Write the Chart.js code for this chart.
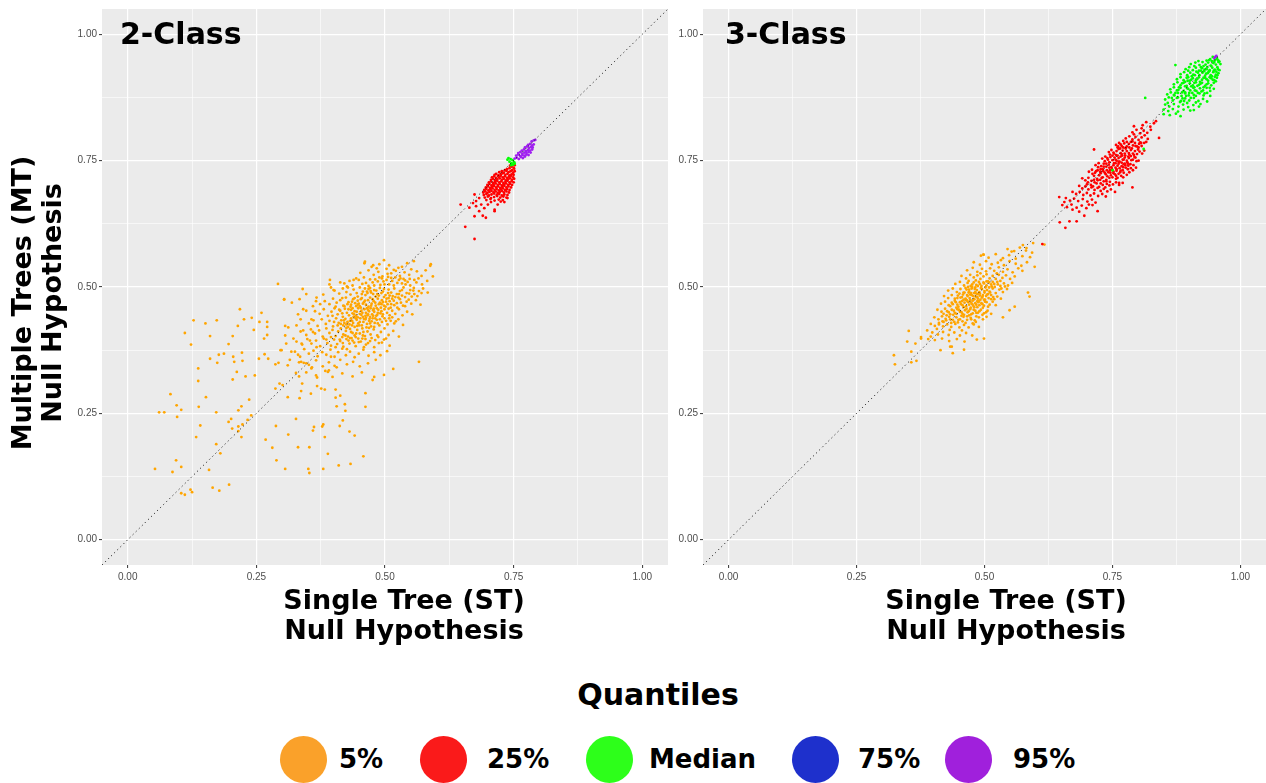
<!DOCTYPE html>
<html>
<head>
<meta charset="utf-8">
<script src="https://cdn.jsdelivr.net/npm/chart.js@4.4.1/dist/chart.umd.min.js"></script>
<style>
html,body{margin:0;padding:0;background:#fff;width:1266px;height:783px;overflow:hidden;}
#wrap{position:relative;width:1266px;height:783px;font-family:"DejaVu Sans",sans-serif;color:#000;}
canvas{position:absolute;top:0;}
#c1{left:0;}
#c2{left:668px;}
.t{position:absolute;font-weight:bold;white-space:nowrap;}
.panel{font-size:30px;line-height:30px;top:19px;}
.xt{font-size:27px;line-height:30px;top:585px;width:400px;text-align:center;}
.yt{font-size:27px;line-height:30px;width:400px;height:60px;text-align:center;left:-163px;top:273px;transform:rotate(-90deg);}
.lt{font-size:30px;line-height:36px;top:677px;width:300px;left:508px;text-align:center;}
.dot{position:absolute;width:47px;height:47px;border-radius:50%;top:735.5px;}
.lab{position:absolute;font-weight:bold;font-size:26px;line-height:30px;top:744px;white-space:nowrap;}
</style>
</head>
<body>
<div id="wrap">
<canvas id="c1" width="668" height="600"></canvas>
<canvas id="c2" width="598" height="600"></canvas>
<div class="t panel" style="left:120px">2-Class</div>
<div class="t panel" style="left:725px">3-Class</div>
<div class="t xt" style="left:204px">Single Tree (ST)<br>Null Hypothesis</div>
<div class="t xt" style="left:806px">Single Tree (ST)<br>Null Hypothesis</div>
<div class="t yt">Multiple Trees (MT)<br>Null Hypothesis</div>
<div class="t lt">Quantiles</div>
<div id="legend"></div>
</div>
<script>
// ---------- DATA ----------
const quantileNames = ['5%', '25%', 'Median', '75%', '95%'];
const majorTicks = [0, 0.25, 0.5, 0.75, 1];
const tickLabels = ['0.00', '0.25', '0.50', '0.75', '1.00'];
const minorTicks = [0.125, 0.375, 0.625, 0.875];

// 2-Class panel: [ST, MT]
const twoClassQ05 = [
[.218,.456],[.128,.434],[.151,.428],[.173,.434],[.111,.409],[.123,.386],[.160,.403],[.196,.387],[.204,.403],[.214,.423],
[.226,.436],[.241,.439],[.245,.415],[.260,.449],[.256,.431],[.271,.431],[.271,.421],[.271,.405],[.265,.398],[.160,.358],
[.177,.366],[.187,.368],[.222,.370],[.205,.362],[.223,.354],[.207,.352],[.174,.350],[.137,.339],[.212,.332],[.229,.323],
[.247,.325],[.204,.317],[.137,.314],[.255,.358],[.266,.367],[.273,.358],[.287,.347],[.293,.350],[.311,.345],[.297,.375],
[.306,.423],[.308,.388],[.325,.372],[.333,.351],[.327,.330],[.333,.323],[.342,.350],[.301,.306],[.287,.299],[.295,.309],
[.311,.282],[.337,.294],[.334,.280],[.339,.309],[.356,.289],[.368,.321],[.368,.304],[.376,.299],[.383,.297],[.389,.332],
[.404,.297],[.406,.264],[.404,.281],[.413,.285],[.422,.268],[.423,.255],[.462,.290],[.462,.263],[.479,.322],[.476,.316],
[.083,.288],[.095,.266],[.104,.257],[.061,.252],[.071,.252],[.096,.243],[.138,.263],[.152,.282],[.172,.252],[.215,.256],
[.221,.264],[.236,.277],[.141,.226],[.133,.203],[.172,.189],[.180,.171],[.196,.233],[.201,.239],[.203,.220],[.215,.224],
[.215,.215],[.221,.203],[.223,.228],[.233,.237],[.240,.246],[.288,.225],[.268,.198],[.281,.182],[.312,.208],[.327,.239],
[.331,.183],[.353,.183],[.360,.216],[.362,.223],[.378,.224],[.380,.228],[.383,.203],[.389,.170],[.410,.147],[.412,.225],
[.418,.236],[.431,.214],[.441,.206],[.458,.165],[.433,.150],[.380,.140],[.351,.140],[.353,.132],[.306,.140],[.289,.157],
[.094,.157],[.104,.144],[.053,.140],[.087,.134],[.158,.138],[.197,.109],[.165,.103],[.178,.097],[.122,.099],[.125,.094],
[.104,.092],[.111,.089],[.589,.545],[.566,.352],[.516,.338],[.498,.326],
[.292,.506],[.340,.496],[.304,.476],[.393,.514],[.413,.509],[.400,.494],[.426,.501],[.439,.514],[.461,.550],[.477,.543],
[.334,.476],[.347,.486],[.366,.472],
[.304,.475],[.319,.469],[.331,.446],[.347,.453],[.336,.436],[.357,.436],[.312,.420],[.328,.424],[.341,.414],[.360,.411],
[.306,.404],[.322,.398],[.338,.388],[.354,.394],[.367,.381],[.299,.375],[.315,.356],[.335,.362],[.347,.349],[.357,.339],
[.341,.456],[.360,.462],[.367,.479],[.380,.485],[.392,.505],
[.460,.547],[.498,.553],[.543,.547],[.556,.551],[.474,.540],[.508,.543],[.533,.540],[.588,.542],[.517,.534],[.489,.545],
[.452,.528],[.468,.533],[.478,.524],[.495,.521],[.503,.536],[.512,.527],[.521,.532],[.529,.522],[.538,.529],[.547,.524],
[.562,.531],[.571,.522],[.487,.530],[.505,.526],[.526,.538],[.484,.537],[.551,.535],[.579,.533],
[.431,.512],[.444,.517],[.456,.506],[.463,.508],[.471,.515],[.479,.503],[.486,.511],[.494,.517],[.499,.505],[.508,.505],
[.514,.512],[.520,.519],[.527,.514],[.533,.507],[.540,.505],[.548,.516],[.556,.498],[.565,.517],[.572,.505],[.582,.512],
[.437,.503],[.449,.514],[.459,.519],[.476,.509],[.491,.504],[.503,.514],[.517,.503],[.536,.516],[.544,.510],[.561,.509],
[.593,.521],[.421,.507],[.468,.502],
[.402,.493],[.411,.487],[.418,.497],[.425,.490],[.433,.485],[.439,.495],[.445,.488],[.451,.499],[.457,.491],[.462,.484],
[.468,.496],[.473,.489],[.479,.494],[.485,.486],[.490,.498],[.496,.491],[.501,.484],[.507,.495],[.512,.489],[.518,.497],
[.523,.486],[.529,.492],[.536,.499],[.542,.488],[.549,.494],[.557,.486],[.566,.492],[.574,.497],[.583,.489],[.395,.499],
[.428,.499],[.447,.481],[.465,.491],[.482,.481],[.498,.496],[.515,.482],[.533,.483],[.552,.481],[.471,.498],[.506,.488],
[.383,.472],[.392,.466],[.399,.477],[.406,.469],[.413,.474],[.419,.463],[.424,.479],[.429,.470],[.434,.465],[.438,.476],
[.442,.468],[.447,.473],[.451,.462],[.455,.478],[.459,.470],[.463,.465],[.467,.474],[.471,.479],[.474,.467],[.478,.472],
[.482,.463],[.486,.477],[.490,.469],[.494,.474],[.498,.463],[.502,.471],[.507,.478],[.512,.466],[.517,.473],[.523,.468],
[.529,.476],[.535,.463],[.542,.471],[.551,.467],[.560,.474],[.569,.465],[.441,.478],[.457,.467],[.476,.476],[.493,.466],
[.509,.472],[.526,.479],[.447,.465],[.481,.469],[.468,.461],[.433,.461],[.417,.478],[.374,.466],
[.364,.452],[.373,.447],[.381,.456],[.389,.443],[.396,.451],[.402,.458],[.408,.446],[.413,.453],[.418,.441],[.422,.457],
[.426,.449],[.430,.444],[.434,.455],[.437,.448],[.441,.452],[.444,.443],[.448,.458],[.451,.447],[.454,.453],[.457,.441],
[.460,.456],[.463,.449],[.466,.444],[.469,.452],[.472,.458],[.475,.446],[.479,.451],[.483,.443],[.487,.455],[.491,.448],
[.495,.442],[.499,.456],[.504,.449],[.509,.444],[.514,.453],[.520,.447],[.527,.456],[.534,.444],[.543,.451],[.553,.446],
[.439,.441],[.456,.449],[.471,.441],[.486,.449],[.429,.456],[.445,.451],[.462,.443],[.478,.457],[.493,.452],[.417,.448],
[.507,.457],[.398,.443],[.437,.458],[.453,.459],[.467,.455],
[.352,.428],[.361,.434],[.369,.423],[.377,.436],[.385,.427],[.392,.433],[.399,.422],[.405,.438],[.410,.429],[.415,.434],
[.419,.424],[.423,.437],[.427,.431],[.431,.426],[.434,.438],[.438,.429],[.441,.421],[.445,.435],[.448,.428],[.452,.438],
[.455,.424],[.458,.431],[.462,.436],[.465,.427],[.469,.433],[.473,.422],[.476,.438],[.480,.429],[.484,.435],[.489,.424],
[.494,.431],[.499,.438],[.505,.426],[.511,.433],[.518,.428],[.526,.436],[.535,.425],[.428,.421],[.446,.423],[.463,.439],
[.479,.421],[.436,.433],[.451,.431],[.471,.428],[.421,.429],[.401,.431],[.486,.428],[.443,.438],
[.336,.412],[.347,.405],[.356,.416],[.364,.408],[.372,.414],[.379,.402],[.386,.418],[.392,.409],[.398,.415],[.404,.403],
[.409,.412],[.414,.418],[.419,.406],[.424,.413],[.428,.402],[.432,.417],[.437,.409],[.441,.404],[.446,.415],[.451,.408],
[.456,.418],[.461,.403],[.466,.412],[.472,.406],[.478,.416],[.485,.404],[.492,.411],[.499,.418],[.507,.405],[.516,.413],
[.527,.402],[.425,.419],[.443,.401],[.458,.411],[.417,.401],[.395,.401],[.434,.411],[.469,.419],
[.328,.392],[.339,.386],[.349,.397],[.357,.388],[.366,.394],[.374,.383],[.381,.398],[.388,.389],[.395,.384],[.401,.396],
[.407,.387],[.413,.393],[.419,.382],[.425,.397],[.431,.388],[.437,.394],[.443,.383],[.449,.391],[.456,.398],[.463,.386],
[.471,.393],[.479,.381],[.488,.389],[.498,.396],[.509,.384],[.404,.381],[.432,.399],[.459,.381],[.386,.396],
[.318,.372],[.331,.366],[.343,.377],[.352,.368],[.361,.374],[.369,.363],[.378,.371],[.386,.366],[.394,.376],[.402,.362],
[.409,.371],[.417,.378],[.424,.365],[.432,.372],[.441,.361],[.449,.368],[.458,.376],[.468,.364],[.479,.371],[.491,.365],
[.504,.373],[.395,.362],[.426,.377],
[.337,.352],[.352,.346],[.366,.355],[.379,.343],[.391,.351],[.402,.344],[.413,.356],[.426,.347],[.438,.352],[.451,.343],
[.467,.349],[.482,.356],[.358,.341],[.406,.341],
[.347,.331],[.366,.325],[.384,.334],[.398,.322],[.417,.329],[.437,.323],[.455,.331],[.391,.335],
[.404,.461],[.411,.455],[.421,.462],[.427,.466],[.436,.471],[.444,.462],[.449,.467],[.453,.476],[.461,.473],[.465,.458],
[.473,.463],[.477,.454],[.484,.458],[.488,.466],[.492,.459],[.496,.470],[.501,.461],[.505,.466],[.511,.459],[.518,.464],
[.524,.459],[.531,.469],[.539,.462],[.546,.475],
[.408,.424],[.414,.427],[.420,.434],[.425,.426],[.432,.433],[.436,.424],[.440,.446],[.447,.440],[.450,.424],[.454,.445],
[.459,.437],[.464,.420],[.467,.446],[.470,.437],[.474,.432],[.477,.443],[.481,.438],[.485,.445],[.490,.436],[.496,.446],
[.502,.433],[.508,.438],[.514,.440],[.521,.432],
[.412,.396],[.418,.389],[.423,.404],[.429,.394],[.435,.399],[.440,.390],[.444,.408],[.448,.398],[.453,.392],[.457,.404],
[.462,.397],[.467,.389],[.474,.399],[.481,.395],[.487,.401],[.494,.390],[.502,.398],
[.455,.486],[.461,.497],[.466,.488],[.472,.492],[.477,.486],[.483,.493],[.488,.483],[.493,.488],[.498,.480],[.503,.477],
[.509,.483],[.514,.477],[.520,.480],[.527,.486],[.533,.494],[.539,.480],[.547,.487],[.555,.493],[.563,.482],[.571,.488],
[.481,.515],[.489,.519],[.497,.511],[.506,.520],[.512,.518],[.524,.508],[.530,.517],[.539,.513],[.549,.503],[.557,.514]
];
const twoClassQ25 = [
[.746,.738],[.750,.736],[.743,.740],[.752,.741],
[.737,.733],[.742,.735],[.747,.731],[.751,.734],[.733,.731],
[.722,.727],[.727,.729],[.731,.726],[.736,.730],[.740,.727],[.744,.729],[.749,.726],[.752,.729],
[.713,.722],[.716,.724],[.720,.721],[.725,.723],[.729,.725],[.734,.722],[.738,.724],[.742,.721],[.746,.723],[.750,.722],
[.708,.717],[.712,.719],[.716,.716],[.721,.718],[.725,.720],[.729,.717],[.733,.719],[.737,.716],[.741,.718],[.745,.720],[.749,.717],
[.706,.712],[.710,.714],[.714,.711],[.718,.713],[.723,.715],[.727,.712],[.731,.714],[.735,.711],[.739,.713],[.743,.715],[.747,.712],[.751,.714],
[.702,.707],[.706,.709],[.710,.706],[.714,.708],[.718,.710],[.722,.707],[.726,.709],[.730,.706],[.734,.708],[.738,.710],[.742,.707],[.746,.709],[.750,.707],
[.699,.702],[.703,.704],[.707,.701],[.711,.703],[.715,.705],[.719,.702],[.723,.704],[.727,.701],[.731,.703],[.735,.705],[.739,.702],[.743,.704],[.747,.702],
[.696,.697],[.700,.699],[.704,.696],[.708,.698],[.712,.700],[.716,.697],[.720,.699],[.724,.696],[.728,.698],[.732,.700],[.736,.697],[.740,.699],[.745,.697],
[.693,.692],[.697,.694],[.701,.691],[.705,.693],[.709,.695],[.713,.692],[.717,.694],[.721,.691],[.725,.693],[.729,.695],[.733,.692],[.737,.694],[.742,.692],
[.691,.687],[.695,.689],[.699,.686],[.703,.688],[.707,.690],[.711,.687],[.715,.689],[.719,.686],[.723,.688],[.727,.690],[.731,.687],[.736,.689],[.741,.687],
[.692,.682],[.697,.684],[.702,.681],[.707,.683],[.712,.685],[.717,.682],[.722,.684],[.727,.681],[.732,.683],[.738,.682],
[.694,.677],[.700,.679],[.706,.676],[.712,.678],[.718,.680],[.724,.677],[.730,.679],[.736,.677],
[.697,.672],[.705,.674],[.713,.671],[.721,.673],[.729,.672],
[.674,.683],[.683,.676],[.671,.666],[.677,.660],[.687,.663],[.693,.656],[.700,.663],[.713,.653],[.683,.650],[.674,.640],
[.690,.641],[.713,.650],[.725,.669],[.732,.668],[.738,.676],[.706,.668],[.647,.663],[.656,.619],[.674,.595],[.664,.657],
[.719,.663],[.696,.637],[.677,.670]
];
const twoClassMedian = [
[.738,.752],[.742,.748],[.746,.745],[.749,.742],[.751,.747],[.744,.753],[.748,.751],[.740,.755],[.752,.744],[.745,.741]
];
const twoClassQ75 = [];
const twoClassQ95 = [
[.752,.754],[.756,.756],[.760,.753],[.764,.757],[.768,.755],[.772,.758],
[.755,.760],[.759,.762],[.763,.759],[.767,.761],[.771,.760],[.775,.762],[.779,.761],
[.759,.765],[.763,.767],[.767,.764],[.771,.766],[.775,.765],[.779,.767],[.783,.766],
[.766,.770],[.770,.772],[.774,.769],[.778,.771],[.782,.770],[.786,.772],
[.772,.776],[.776,.778],[.780,.775],[.784,.777],[.787,.776],
[.778,.781],[.782,.783],[.786,.780],[.789,.782],
[.785,.788],[.789,.790],[.792,.791]
];

// 3-Class panel: [ST, MT]
const threeClassQ05 = [
[.545,.575],[.558,.571],[.569,.578],[.581,.572],[.593,.568],
[.575,.583],[.582,.577],[.595,.587],[.553,.570],[.617,.584],[.598,.540],
[.493,.562],[.508,.558],[.522,.565],[.536,.557],[.548,.563],[.561,.556],[.574,.561],[.589,.559],[.498,.564],
[.479,.549],[.491,.544],[.503,.551],[.514,.545],[.526,.548],[.538,.543],[.549,.551],[.561,.546],[.572,.542],[.583,.549],[.532,.553],
[.466,.533],[.477,.538],[.486,.530],[.495,.536],[.503,.531],[.511,.537],[.519,.532],[.528,.539],[.536,.530],[.545,.535],
[.555,.529],[.566,.537],[.574,.532],[.492,.527],[.524,.527],
[.455,.522],[.464,.517],[.472,.524],[.479,.519],[.486,.523],[.492,.516],[.498,.521],[.504,.525],[.510,.517],[.516,.522],
[.522,.516],[.528,.524],[.535,.518],[.542,.523],[.550,.516],[.559,.521],[.469,.512],[.483,.513],[.507,.511],[.531,.512],
[.443,.506],[.452,.510],[.460,.503],[.467,.508],[.473,.502],[.479,.509],[.484,.504],[.489,.510],[.494,.502],[.499,.507],
[.504,.503],[.509,.509],[.514,.501],[.519,.506],[.525,.510],[.531,.502],[.538,.507],[.546,.503],[.554,.508],[.476,.505],
[.491,.506],[.502,.499],[.516,.510],[.463,.498],
[.429,.493],[.438,.497],[.446,.490],[.453,.496],[.459,.489],[.465,.495],[.470,.491],[.475,.497],[.480,.488],[.485,.494],
[.490,.490],[.495,.496],[.500,.489],[.505,.494],[.510,.491],[.516,.497],[.522,.488],[.529,.495],[.536,.490],[.544,.496],
[.472,.485],[.487,.486],[.497,.484],[.482,.499],[.468,.500],[.507,.486],
[.421,.482],[.429,.478],[.436,.484],[.442,.477],[.448,.483],[.453,.479],[.458,.485],[.463,.477],[.467,.482],[.471,.478],
[.475,.484],[.479,.476],[.483,.481],[.487,.477],[.491,.483],[.495,.479],[.499,.475],[.503,.482],[.508,.478],[.513,.484],
[.519,.476],[.525,.481],[.532,.477],[.465,.474],[.477,.473],[.489,.472],[.456,.472],[.501,.471],[.484,.487],[.469,.489],
[.415,.467],[.423,.471],[.430,.464],[.436,.469],[.442,.473],[.447,.465],[.452,.470],[.457,.464],[.461,.469],[.466,.473],
[.470,.465],[.474,.469],[.478,.463],[.482,.468],[.486,.472],[.490,.464],[.494,.468],[.499,.463],[.504,.470],[.510,.465],
[.516,.471],[.522,.464],[.459,.460],[.473,.459],[.486,.460],[.445,.459],[.497,.459],[.463,.475],[.480,.476],
[.408,.455],[.416,.451],[.423,.457],[.430,.450],[.436,.455],[.442,.449],[.447,.456],[.452,.451],[.457,.447],[.462,.454],
[.467,.450],[.472,.456],[.477,.448],[.482,.453],[.487,.449],[.493,.455],[.499,.448],[.506,.453],[.513,.447],[.439,.445],
[.455,.443],[.470,.444],[.484,.442],[.426,.444],
[.402,.440],[.410,.436],[.417,.442],[.424,.437],[.431,.441],[.438,.435],[.445,.440],[.452,.436],[.459,.441],[.466,.435],
[.473,.439],[.481,.434],[.489,.440],[.497,.436],[.504,.441],[.420,.431],[.448,.430],[.463,.429],[.435,.429],[.477,.428],
[.395,.427],[.403,.423],[.411,.429],[.419,.422],[.427,.426],[.435,.421],[.443,.427],[.451,.420],[.460,.425],[.469,.420],
[.479,.426],[.489,.421],[.407,.417],[.432,.415],[.456,.414],
[.388,.414],[.398,.410],[.409,.406],[.419,.411],[.430,.405],[.441,.410],[.452,.404],[.464,.409],[.476,.404],[.395,.402],
[.376,.401],[.390,.397],[.403,.395],[.417,.398],[.431,.393],[.446,.397],[.461,.392],
[.323,.365],[.325,.347],[.352,.413],[.349,.392],[.357,.372],[.365,.388],[.376,.398],[.433,.382],[.436,.382],[.438,.369],
[.460,.376],[.414,.375],[.367,.354],[.357,.351],[.499,.398],[.485,.396],
[.588,.481],[.585,.489],[.536,.440],[.559,.461],[.549,.454],[.498,.564],
[.447,.478],[.451,.487],[.456,.480],[.461,.489],[.466,.484],[.470,.495],[.474,.488],[.478,.482],[.482,.490],[.486,.480],
[.491,.487],[.496,.481],[.500,.492],[.505,.485],[.511,.489],[.517,.480],
[.433,.462],[.438,.466],[.444,.470],[.449,.461],[.454,.466],[.459,.475],[.464,.462],[.468,.470],[.472,.474],[.476,.466],
[.480,.460],[.484,.465],[.488,.470],[.492,.475],[.496,.466],[.501,.475],[.507,.461],[.513,.476],
[.420,.447],[.427,.452],[.433,.446],[.440,.453],[.445,.447],[.450,.455],[.455,.450],[.460,.445],[.465,.457],[.469,.452],
[.474,.446],[.479,.455],[.484,.449],[.490,.452],[.496,.445],[.503,.450],
[.476,.500],[.481,.496],[.487,.502],[.493,.498],[.498,.509],[.504,.511],[.509,.499],[.513,.505],[.520,.500],[.526,.505],
[.533,.497],[.540,.501],
[.411,.426],[.418,.432],[.425,.434],[.433,.436],[.441,.431],[.449,.435],[.457,.432],[.466,.442],[.474,.436],[.483,.431]
];
const threeClassQ25 = [
[.809,.820],[.816,.826],[.824,.817],[.831,.824],[.835,.828],[.792,.818],
[.789,.806],[.797,.811],[.804,.804],[.811,.809],[.818,.805],[.825,.811],[.807,.814],[.841,.795],
[.776,.794],[.783,.798],[.789,.792],[.795,.797],[.801,.791],[.807,.796],[.813,.800],[.819,.793],[.792,.802],[.804,.786],
[.771,.789],[.816,.787],
[.757,.781],[.763,.785],[.768,.779],[.773,.784],[.778,.778],[.782,.783],[.786,.787],[.790,.780],[.794,.785],[.798,.778],
[.802,.783],[.807,.779],[.812,.785],[.776,.774],[.788,.774],[.800,.772],[.765,.774],[.714,.772],
[.743,.767],[.748,.771],[.753,.764],[.758,.769],[.762,.773],[.766,.765],[.770,.770],[.774,.764],[.778,.769],[.782,.765],
[.786,.771],[.790,.764],[.794,.769],[.798,.763],[.803,.768],[.808,.764],[.812,.770],[.757,.761],[.769,.760],[.781,.758],
[.793,.757],[.750,.760],[.776,.775],[.761,.778],
[.730,.754],[.736,.758],[.741,.752],[.746,.757],[.750,.751],[.754,.756],[.758,.750],[.762,.755],[.766,.758],[.770,.752],
[.774,.756],[.778,.750],[.782,.755],[.786,.759],[.790,.752],[.795,.756],[.801,.750],[.744,.747],[.756,.745],[.768,.746],
[.780,.744],[.738,.744],[.762,.748],[.774,.744],
[.717,.741],[.723,.745],[.728,.739],[.733,.744],[.738,.738],[.743,.742],[.748,.737],[.752,.741],[.756,.736],[.760,.740],
[.764,.735],[.768,.739],[.772,.743],[.776,.736],[.781,.740],[.786,.735],[.791,.741],[.796,.736],[.731,.733],[.745,.731],
[.758,.730],[.770,.731],[.726,.728],[.752,.728],
[.704,.728],[.710,.732],[.716,.726],[.721,.731],[.727,.725],[.732,.729],[.737,.723],[.742,.727],[.747,.721],[.752,.725],
[.757,.720],[.762,.724],[.767,.720],[.772,.726],[.778,.722],[.783,.727],[.714,.720],[.731,.717],[.744,.716],[.720,.714],
[.738,.712],[.757,.714],
[.691,.715],[.697,.711],[.703,.716],[.709,.710],[.715,.707],[.721,.711],[.727,.705],[.733,.709],[.739,.704],[.745,.708],
[.751,.703],[.757,.707],[.763,.702],[.770,.706],[.700,.703],[.712,.699],[.724,.698],[.736,.697],[.763,.706],[.789,.697],
[.685,.700],[.691,.695],[.697,.699],[.703,.693],[.709,.697],[.715,.692],[.721,.696],[.727,.690],[.733,.694],[.740,.689],
[.747,.693],[.755,.688],
[.672,.688],[.679,.684],[.686,.688],[.693,.682],[.700,.686],[.707,.681],[.714,.685],[.722,.680],[.730,.684],[.737,.679],
[.659,.676],[.667,.671],[.675,.675],[.683,.670],[.692,.674],[.701,.669],[.710,.673],[.717,.667],
[.652,.662],[.661,.658],[.670,.663],[.680,.657],[.690,.661],[.699,.656],[.704,.663],
[.646,.678],[.656,.668],[.672,.653],[.685,.649],[.695,.641],[.680,.630],[.711,.662],[.721,.650],[.647,.628],[.658,.617],
[.666,.630],[.613,.585],
[.735,.749],[.740,.755],[.745,.762],[.752,.766],[.756,.752],[.760,.760],[.764,.748],[.768,.763],[.772,.752],[.775,.760],
[.779,.747],[.783,.762],[.787,.751],[.792,.761],[.797,.749],
[.722,.737],[.727,.733],[.733,.738],[.739,.731],[.744,.736],[.749,.733],[.753,.745],[.758,.733],[.762,.744],[.766,.730],
[.771,.737],[.775,.741],[.780,.733],[.785,.743],[.790,.731],
[.711,.724],[.718,.729],[.724,.721],[.729,.716],[.735,.726],[.740,.719],[.746,.726],[.750,.717],[.755,.723],[.760,.716],
[.765,.727],[.771,.717],
[.760,.776],[.766,.782],[.771,.776],[.778,.787],[.783,.776],[.789,.788],[.795,.779],[.801,.776],[.806,.785],
[.702,.707],[.708,.702],[.714,.712],[.719,.705],[.726,.712],[.731,.702],[.738,.709],[.744,.701]
];
const threeClassMedian = [
[.941,.951],[.946,.955],[.950,.949],[.954,.953],[.957,.948],[.944,.947],
[.903,.941],[.912,.944],[.920,.939],[.926,.945],[.932,.940],[.937,.944],[.942,.938],[.947,.943],[.952,.940],[.957,.945],
[.961,.941],[.873,.939],[.918,.947],
[.893,.931],[.900,.935],[.907,.929],[.913,.934],[.919,.928],[.925,.933],[.930,.930],[.935,.935],[.940,.929],[.945,.934],
[.950,.930],[.955,.935],[.959,.929],[.910,.937],[.938,.926],[.953,.926],
[.883,.921],[.890,.925],[.896,.919],[.902,.924],[.908,.920],[.914,.926],[.920,.919],[.926,.924],[.931,.918],[.936,.923],
[.942,.919],[.947,.925],[.952,.920],[.957,.923],[.898,.928],[.929,.927],[.944,.917],
[.876,.911],[.883,.915],[.889,.909],[.895,.914],[.901,.908],[.907,.913],[.913,.909],[.919,.915],[.925,.910],[.931,.914],
[.937,.908],[.943,.913],[.949,.909],[.954,.914],[.892,.906],[.921,.906],[.905,.917],
[.870,.901],[.877,.905],[.883,.899],[.889,.904],[.895,.898],[.901,.903],[.907,.899],[.913,.905],[.919,.900],[.925,.904],
[.931,.898],[.937,.903],[.943,.899],[.948,.904],[.880,.895],[.910,.895],[.928,.895],[.897,.908],
[.863,.891],[.870,.895],[.876,.889],[.883,.894],[.889,.888],[.896,.893],[.902,.889],[.908,.894],[.914,.888],[.921,.893],
[.927,.889],[.934,.894],[.941,.888],[.948,.892],[.873,.884],[.892,.885],[.917,.884],
[.857,.881],[.864,.885],[.871,.879],[.878,.884],[.885,.878],[.892,.883],[.899,.879],[.906,.884],[.913,.878],[.920,.883],
[.928,.879],[.935,.884],[.941,.878],[.866,.874],[.887,.873],[.903,.874],
[.853,.871],[.860,.875],[.868,.869],[.876,.874],[.884,.868],[.892,.873],[.900,.869],[.909,.874],[.918,.868],[.927,.872],
[.935,.867],[.858,.864],[.896,.864],
[.853,.861],[.861,.857],[.870,.862],[.879,.857],[.888,.861],[.898,.856],[.908,.860],[.919,.857],[.922,.862],
[.850,.851],[.859,.848],[.868,.852],[.878,.847],[.889,.851],[.902,.849],[.909,.850],
[.850,.842],[.862,.840],[.874,.843],[.883,.838],
[.814,.874],[.750,.731],[.811,.773],
[.934,.948],[.939,.949],[.949,.945],[.955,.950],[.959,.946],[.923,.935],[.928,.937],[.934,.931],[.943,.937],[.948,.928],
[.956,.931],[.917,.924],[.923,.928],[.933,.922],[.939,.927],[.950,.916],[.955,.919],[.911,.919],[.916,.912],[.928,.914],
[.934,.911],[.940,.915],[.946,.910],[.952,.907],[.898,.915],[.904,.910],[.910,.904],[.916,.898],[.922,.902],[.934,.901],
[.940,.894],[.886,.903],[.892,.897],[.898,.892],[.904,.897],[.911,.889],[.924,.887],[.930,.883],[.879,.890],[.886,.885],
[.894,.878],[.900,.884],[.909,.880],[.870,.880],[.878,.875],[.882,.866],[.890,.868],[.913,.865]
];
const threeClassQ75 = [];
const threeClassQ95 = [[.951,.955],[.953,.957],[.949,.953]];

// ---------- STYLE ----------
const pointColors = ['#FFA500', '#FF0000', '#00FF00', '#0000FF', '#A020F0'];
const legendColors = ['#FAA12A', '#FA1A1A', '#2DFF1A', '#1E30CC', '#A020DC'];
const legendDotX = [303, 443, 609, 815, 968];
const legendLabelX = [339, 487, 649, 858, 1013];

const allTicks = majorTicks.concat(minorTicks).sort((a, b) => a - b);
const isMajor = v => majorTicks.some(m => Math.abs(m - v) < 1e-9);
const labelFor = v => { const i = majorTicks.findIndex(m => Math.abs(m - v) < 1e-9); return i >= 0 ? tickLabels[i] : ''; };

function makeScale(axis, size) {
  return {
    type: 'linear', min: -0.05, max: 1.05,
    afterBuildTicks: s => { s.ticks = allTicks.map(v => ({ value: v })); },
    afterFit: s => {
      if (axis === 'x') s.height = size; else s.width = size;
      s.paddingLeft = 0; s.paddingRight = 0; s.paddingTop = 0; s.paddingBottom = 0;
    },
    grid: {
      color: '#FFFFFF',
      lineWidth: c => (c.tick && isMajor(c.tick.value)) ? 1.2 : 0.6,
      drawTicks: true, tickLength: 3, tickWidth: 1,
      tickColor: c => (c.tick && isMajor(c.tick.value)) ? '#333333' : 'rgba(0,0,0,0)'
    },
    border: { display: false },
    ticks: {
      autoSkip: false, maxRotation: 0, minRotation: 0, padding: axis === 'x' ? 3 : 2,
      color: '#4D4D4D', font: { family: 'Liberation Sans', size: 10 },
      callback: v => labelFor(v)
    }
  };
}

const bgPlugin = {
  id: 'panelBg',
  beforeDraw(chart) {
    const a = chart.chartArea, ctx = chart.ctx;
    ctx.save();
    ctx.fillStyle = '#EBEBEB';
    ctx.fillRect(a.left, a.top, a.right - a.left, a.bottom - a.top);
    ctx.restore();
  }
};

function buildDatasets(groups) {
  const ds = [{
    label: 'diag', data: [{ x: -0.05, y: -0.05 }, { x: 1.05, y: 1.05 }],
    showLine: true, borderColor: '#000000', borderWidth: 0.9, borderDash: [1.1, 3.2],
    pointRadius: 0, pointHoverRadius: 0, fill: false, order: 0
  }];
  groups.forEach((g, i) => ds.push({
    label: quantileNames[i],
    data: g.map(p => ({ x: p[0], y: p[1] })),
    backgroundColor: pointColors[i], borderWidth: 0, pointRadius: 1.4, pointHoverRadius: 0,
    pointStyle: 'circle', order: 10 - i
  }));
  return ds;
}

function makeChart(id, groups, yWidth) {
  return new Chart(document.getElementById(id), {
    type: 'scatter',
    data: { datasets: buildDatasets(groups) },
    options: {
      responsive: false, animation: false, devicePixelRatio: 1, events: [],
      layout: { autoPadding: false, padding: { top: 9, left: 0, right: 0, bottom: 0 } },
      plugins: { legend: { display: false }, tooltip: { enabled: false } },
      scales: { x: makeScale('x', 35), y: makeScale('y', yWidth) }
    },
    plugins: [bgPlugin]
  });
}

makeChart('c1', [twoClassQ05, twoClassQ25, twoClassMedian, twoClassQ75, twoClassQ95], 102);
makeChart('c2', [threeClassQ05, threeClassQ25, threeClassMedian, threeClassQ75, threeClassQ95], 35);

// legend
const leg = document.getElementById('legend');
quantileNames.forEach((name, i) => {
  const d = document.createElement('div');
  d.className = 'dot';
  d.style.left = (legendDotX[i] - 23.5) + 'px';
  d.style.background = legendColors[i];
  leg.appendChild(d);
  const l = document.createElement('div');
  l.className = 'lab';
  l.style.left = legendLabelX[i] + 'px';
  l.textContent = name;
  leg.appendChild(l);
});
</script>
</body>
</html>
